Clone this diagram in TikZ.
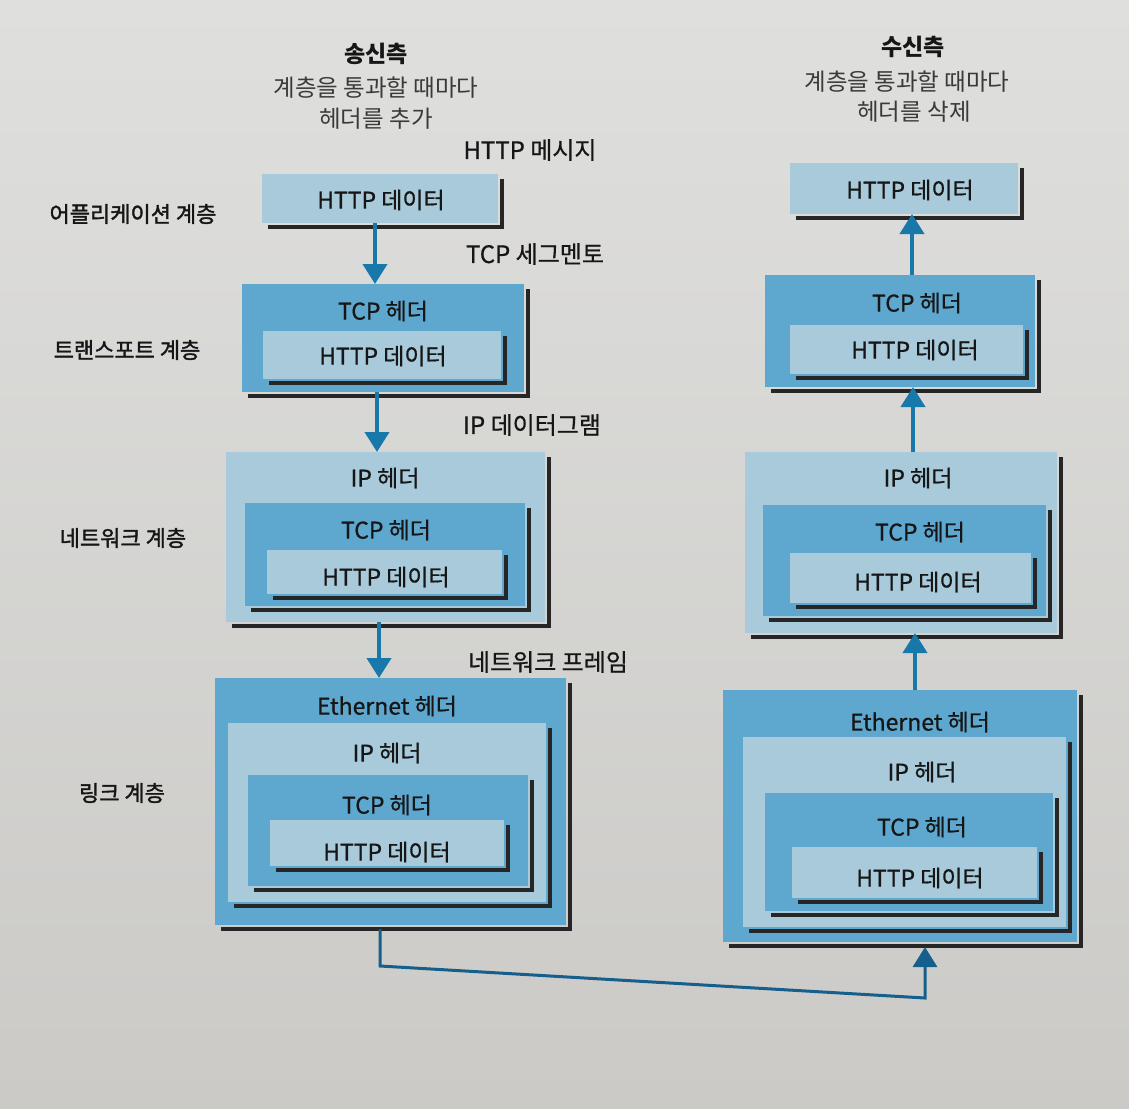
\documentclass[tikz,border=0pt]{standalone}
\usepackage{fontspec}
\setmainfont{Noto Sans CJK KR}
\newfontfamily\medfont[FakeBold=0.7]{Noto Sans CJK KR}
\newfontfamily\semifont[FakeBold=1.6]{Noto Sans CJK KR}
\usetikzlibrary{arrows.meta}
\definecolor{pagetop}{HTML}{DFDFDD}
\definecolor{pagebot}{HTML}{CBCAC7}
\definecolor{midblue}{HTML}{5EA7CF}
\definecolor{lightblue}{HTML}{A8CADA}
\definecolor{shadowc}{HTML}{262626}
\definecolor{arrowc}{HTML}{1878AA}
\definecolor{linkc}{HTML}{155F8C}
\definecolor{subtext}{HTML}{3A3A3A}
\definecolor{maintext}{HTML}{161616}
\tikzset{
  pkt/.style={inner sep=0pt, outer sep=0pt, draw=none, rectangle},
  shadowline/.style={draw=shadowc, line width=4pt},
  boxtext/.style={font=\medfont\fontsize{23}{25}\selectfont, text=maintext, inner sep=0pt},
  layerlbl/.style={font=\semifont\fontsize{22}{24}\selectfont, text=maintext, inner sep=0pt},
  unitlbl/.style={font=\medfont\fontsize{24}{26}\selectfont, text=maintext, inner sep=0pt},
  titlelbl/.style={font=\fontsize{23}{25}\selectfont\bfseries, text=maintext, inner sep=0pt},
  sublbl/.style={font=\fontsize{23.5}{25}\selectfont, text=subtext, inner sep=0pt},
  flow/.style={draw=arrowc, line width=4pt, -{Triangle[width=24pt,length=20pt]}},
  linkflow/.style={draw=linkc, line width=3pt, -{Triangle[width=24pt,length=20pt]}}
}
\newcommand\pkbox[6]{%
  \draw[shadowline] (#2+6,#5+3.5) -- (#4+3.5,#5+3.5) -- (#4+3.5,#3+5);
  \node[pkt, fill=#6, minimum width={#4-#2}, minimum height={#5-#3}] (#1) at ({(#2+#4)/2},{(#3+#5)/2}) {};
}
\begin{document}
\begin{tikzpicture}[x=1pt,y=-1pt]
\useasboundingbox (0,0) rectangle (1129,1108);
\shade[top color=pagetop, bottom color=pagebot] (0,0) rectangle (1129,1108);

% arrow x positions
\coordinate (ca) at (375,0);
\coordinate (cb) at (377,0);
\coordinate (cc) at (379,0);
\coordinate (cd) at (912,0);
\coordinate (ce) at (913,0);
\coordinate (cf) at (915,0);
\coordinate (cl) at (380,0);
\coordinate (cr) at (925,0);

% ---------- sender side ----------
\pkbox{s1}{262}{174}{498}{223}{lightblue}

\pkbox{s2o}{242}{284}{524}{392}{midblue}
\pkbox{s2i}{263}{331}{501}{379}{lightblue}

\pkbox{s3o}{226}{452}{545}{622}{lightblue}
\pkbox{s3m}{245}{503}{525}{606}{midblue}
\pkbox{s3i}{267}{550}{502}{594}{lightblue}

\pkbox{s4o}{215}{678}{566}{925}{midblue}
\pkbox{s4a}{228}{723}{546}{902}{lightblue}
\pkbox{s4b}{248}{775}{528}{886}{midblue}
\pkbox{s4c}{270}{820}{504}{866}{lightblue}

% ---------- receiver side ----------
\pkbox{r1}{790}{163}{1018}{214}{lightblue}

\pkbox{r2o}{765}{275}{1035}{387}{midblue}
\pkbox{r2i}{790}{325}{1023}{374}{lightblue}

\pkbox{r3o}{745}{452}{1057}{633}{lightblue}
\pkbox{r3m}{763}{505}{1046}{616}{midblue}
\pkbox{r3i}{790}{553}{1031}{603}{lightblue}

\pkbox{r4o}{723}{690}{1077}{942}{midblue}
\pkbox{r4a}{743}{737}{1066}{927}{lightblue}
\pkbox{r4b}{765}{793}{1053}{911}{midblue}
\pkbox{r4c}{792}{847}{1037}{898}{lightblue}

% ---------- connectors ----------
\draw[flow] (s1.south -| ca) -- (s2o.north -| ca);
\draw[flow] (s2o.south -| cb) -- (s3o.north -| cb);
\draw[flow] (s3o.south -| cc) -- (s4o.north -| cc);
\draw[flow] (r2o.north -| cd) -- (r1.south -| cd);
\draw[flow] (r3o.north -| ce) -- (r2o.south -| ce);
\draw[flow] (r4o.north -| cf) -- (r3o.south -| cf);
\coordinate (bl) at (380,966);
\coordinate (br) at (925,998);
\draw[linkflow] ([yshift=-4pt]s4o.south -| cl) -- (bl) -- (br) -- ([yshift=-5pt]r4o.south -| cr);

% ---------- box texts: sender ----------
\node[boxtext] (s1t) at (381,200) {HTTP 데이터};
\node[boxtext] (s2t1) at (383,311) {TCP 헤더};
\node[boxtext] (s2t2) at (383,356) {HTTP 데이터};
\node[boxtext] (s3t1) at (385,478) {IP 헤더};
\node[boxtext] (s3t2) at (386,530) {TCP 헤더};
\node[boxtext] (s3t3) at (386,577) {HTTP 데이터};
\node[boxtext] (s4t1) at (387,706) {Ethernet 헤더};
\node[boxtext] (s4t2) at (387,753) {IP 헤더};
\node[boxtext] (s4t3) at (387,805) {TCP 헤더};
\node[boxtext] (s4t4) at (387,852) {HTTP 데이터};

% ---------- box texts: receiver ----------
\node[boxtext] (r1t) at (910,190) {HTTP 데이터};
\node[boxtext] (r2t1) at (917,303) {TCP 헤더};
\node[boxtext] (r2t2) at (915,350) {HTTP 데이터};
\node[boxtext] (r3t1) at (918,478) {IP 헤더};
\node[boxtext] (r3t2) at (920,532) {TCP 헤더};
\node[boxtext] (r3t3) at (918,582) {HTTP 데이터};
\node[boxtext] (r4t1) at (920,722) {Ethernet 헤더};
\node[boxtext] (r4t2) at (922,772) {IP 헤더};
\node[boxtext] (r4t3) at (922,827) {TCP 헤더};
\node[boxtext] (r4t4) at (920,878) {HTTP 데이터};

% ---------- layer labels ----------
\node[layerlbl] (l1) at (133,214) {어플리케이션 계층};
\node[layerlbl] (l2) at (127,350) {트랜스포트 계층};
\node[layerlbl] (l3) at (123,538) {네트워크 계층};
\node[layerlbl] (l4) at (122,793) {링크 계층};

% ---------- unit labels ----------
\node[unitlbl] (u1) at (530,150) {HTTP 메시지};
\node[unitlbl] (u2) at (535,254) {TCP 세그멘토};
\node[unitlbl] (u3) at (532,425) {IP 데이터그램};
\node[unitlbl] (u4) at (548,662) {네트워크 프레임};

% ---------- titles ----------
\node[titlelbl] (st) at (376,54) {송신측};
\node[sublbl] (ss1) at (376,88) {계층을 통과할 때마다};
\node[sublbl] (ss2) at (376,119) {헤더를 추가};
\node[titlelbl] (rt) at (913,47) {수신측};
\node[sublbl] (rs1) at (907,82) {계층을 통과할 때마다};
\node[sublbl] (rs2) at (914,112) {헤더를 삭제};
\end{tikzpicture}
\end{document}
